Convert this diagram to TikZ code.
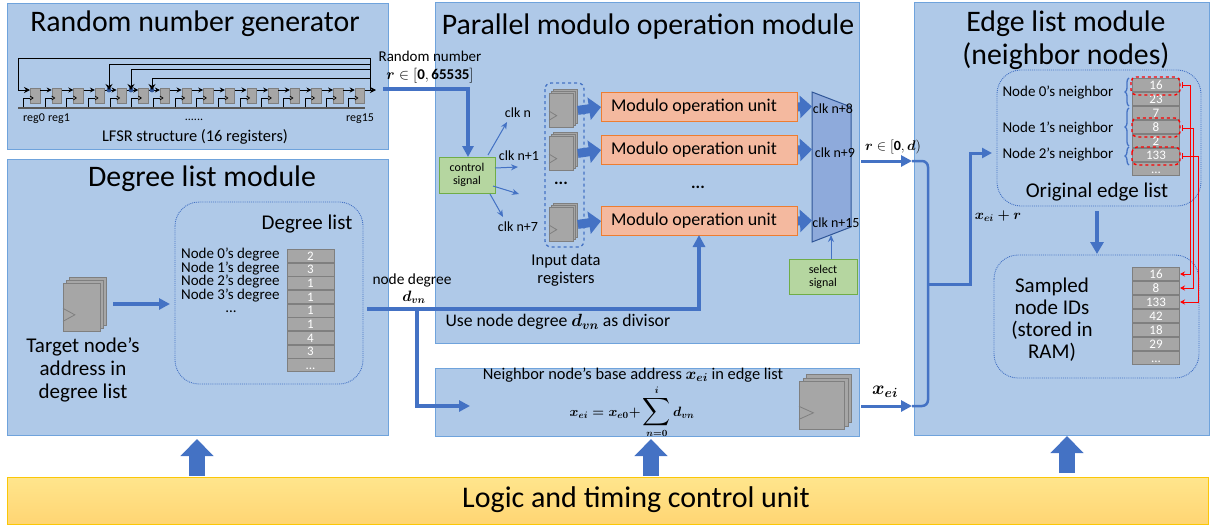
\RequirePackage{fix-cm}
\documentclass[tikz,border=0pt]{standalone}
\usepackage{amsmath}
\usepackage{graphicx}
\usepackage{fontspec}
\setmainfont{Carlito}
\usetikzlibrary{positioning,calc,arrows.meta,decorations.pathreplacing}
\definecolor{bleu}{HTML}{4472C4}
\definecolor{panneau}{HTML}{AFC9E8}
\definecolor{bord}{HTML}{6FA3DC}
\definecolor{cellgris}{HTML}{A6A6A6}
\definecolor{cellbord}{HTML}{7F7F7F}
\definecolor{saumon}{HTML}{F4B99F}
\definecolor{orange2}{HTML}{ED7D31}
\definecolor{vert2}{HTML}{B5D6A0}
\definecolor{vert3}{HTML}{70AD47}
\definecolor{mux}{HTML}{8EAADB}
\definecolor{muxbord}{HTML}{2F5597}
\newcommand{\fs}[1]{\fontsize{#1}{#1}\selectfont}
\newcommand{\pts}{...}
\tikzstyle{panneau}=[rectangle,draw=bord,fill=panneau,line width=1,anchor=north west]
\tikzstyle{bloc}=[rectangle,draw=cellbord,fill=cellgris,line width=0.8,anchor=north west,inner sep=0pt]
\tikzstyle{reg}=[rectangle,draw=cellbord,fill=cellgris,line width=0.8,anchor=north west,inner sep=0pt,minimum width=9.5,minimum height=15]
\tikzstyle{cell}=[rectangle,draw=cellbord,fill=cellgris,line width=1,text=white,inner sep=0pt,minimum width=47,text height=8.5,text depth=0,font=\fs{13}]
\tikzstyle{unite}=[rectangle,draw=orange2,fill=saumon,line width=1,anchor=north west,minimum width=196,minimum height=29,inner sep=0pt]
\tikzstyle{vert}=[rectangle,draw=vert3,fill=vert2,line width=1,align=center,inner sep=0pt,font=\fs{12}]
\tikzstyle{pointil}=[draw=bleu,densely dotted,rounded corners=24,line width=0.9]
\tikzstyle{fleche}=[draw=bleu,line width=4,-{Triangle[length=11,width=11]}]
\tikzstyle{fine}=[draw=bleu,line width=1,-{Stealth[length=7,width=6]}]
\tikzstyle{gros}=[draw=bleu,line width=9,-{Triangle[length=12,width=22]}]
\tikzstyle{geant}=[draw=bleu,line width=16,-{Triangle[length=17,width=32]}]
\tikzstyle{rouge}=[draw=red,line width=1,{Bar[width=6]}-{Stealth[length=5,width=5]}]
\tikzstyle{cadre}=[draw=red,line width=1.4,dashed,rounded corners=5]
\tikzstyle{clk}=[font=\fs{14}]
% pile de registres : nom, x, y, largeur, hauteur, decalage
\newcommand{\pile}[6]{
\foreach \k in {2,1} {
\node[bloc,minimum width=#4,minimum height=#5] at ({#2+\k*#6},{#3-\k*#6}) {};
}
\node[bloc,minimum width=#4,minimum height=#5] (#1) at (#2,#3) {};
\draw[cellbord,line width=0.8] ($(#1.west)+(0,0.02*#5)$)--++(0.32*#4,0.135*#5)--++(-0.32*#4,0.135*#5);
}
\begin{document}
\begin{tikzpicture}[x=1pt,y=-1pt]
\useasboundingbox (0,0) rectangle (1213,525);

% panneaux
\node[panneau,minimum width=381,minimum height=146] (P00) at (7,3) {};
\node[panneau,minimum width=381,minimum height=276] (P10) at (7,159) {};
\node[panneau,minimum width=424,minimum height=341] (P01) at (435,2) {};
\node[panneau,minimum width=424,minimum height=68] (P11) at (435,368) {};
\node[panneau,minimum width=295,minimum height=433] (P02) at (914,2) {};
\node[rectangle,draw=yellow!60!orange,line width=1,top color=orange!45!yellow!45!white,bottom color=orange!60!yellow!55!white,anchor=north west,minimum width=1201,minimum height=47] (U00) at (7,477) {};
\node[font=\fs{30}] (T20) at (636,499.5) {Logic and timing control unit};

\node[font=\fs{29.8}] (T00) at (195,24) {Random number generator};
\node[font=\fs{29.8}] (T10) at (202,179) {Degree list module};
\node[font=\fs{29.8}] (T01) at (648,27) {Parallel modulo operation module};
\node[font=\fs{29.8},align=center] (T02) at (1066,40) {Edge list module\\[3pt](neighbor nodes)};

% LFSR
\foreach \i in {0,...,15} {
\node[reg] (R\i) at ({30+21.65*\i},87.5) {};
\draw[line width=0.8] ({23.5+21.65*\i},108)|-({30+21.65*\i},98);
\draw[line width=0.7] ({30+21.65*\i},96)--++(3,2)--++(-3,2);
}
\foreach \i [remember=\i as \j (initially 0)] in {1,...,15} {
\draw[-{Stealth[length=5,width=5]},line width=0.8] (R\j.east|-0,90)--(R\i.west|-0,90);
}
\coordinate (C00) at (18,90);
\coordinate (C01) at (18,58);
\coordinate (C02) at (370,58);
\coordinate (C03) at (370,90);
\coordinate (C04) at (376,90);
\coordinate (D00) at (109,90);
\coordinate (D01) at (131,90);
\coordinate (D02) at (152,90);
\draw[line width=0.9,-{Stealth[length=6,width=6]}] (C03)--(C02)--(C01)--(C00)--(R0.west|-C00);
\draw[line width=0.9,-{Stealth[length=6,width=6]}] (R15.east|-C03)--(C04);
\foreach \c in {D00,D01,D02} \fill[muxbord] (\c) circle (2.4);
\draw[line width=0.9,-{Stealth[length=6,width=7]}] (C02|-0,64)-|(D00);
\draw[line width=0.9,-{Stealth[length=6,width=7]}] (C02|-0,69.5)-|(D01);
\draw[line width=0.9,-{Stealth[length=6,width=7]}] (C02|-0,78)-|(D02);
\draw[line width=1.2,black!65] (18,108)--(365,108);
\node[font=\fs{12}] (L00) at (34,119) {reg0};
\node[font=\fs{12}] (L01) at (59,119) {reg1};
\node[font=\fs{12}] (L02) at (194,120) {......};
\node[font=\fs{12}] (L03) at (360,119) {reg15};
\node[font=\fs{16.4}] (L04) at (195,137) {LFSR structure (16 registers)};

% degree list
\draw[pointil] (175,202) rectangle (363,384);
\node[font=\fs{21}] (D10) at (307,224) {Degree list};
\pile{S00}{63}{283}{37}{48}{3}
\node[font=\fs{21},align=center] (S01) at (83,370) {Target node's\\[2pt]address in\\[2pt]degree list};
\draw[fleche] (113,304)--(170,304);
\foreach \t [count=\i] in {0,1,2,3} {
\node[font=\fs{15},anchor=east] (N\i) at (283,{241.5+13.4*\i}) {Node \t's degree};
}
\node[font=\fs{15}] (N5) at (231,312) {...};
\foreach \v [count=\i] in {2,3,1,1,1,1,4,3,\pts} {
\node[cell,minimum height=13] (G\i) at (310.5,{242.2+13.68*\i}) {\v};
}

% sortie du generateur
\node[font=\fs{15},align=center] (Q00) at (430,67) {Random number\\[2.5pt]$\boldsymbol{r}\in[\mathbf{0},\mathbf{65535}]$};
\draw[fleche] (383,89)-|(468,157);

% commande
\node[vert,minimum width=56,minimum height=36] (V00) at (467,175) {control\\[1pt]signal};
\node[clk] (K00) at (518,113) {clk n};
\node[clk] (K10) at (519,156) {clk n+1};
\node[clk] (K20) at (518,227) {clk n+7};
\draw[fine] (488,155)--(507,122);
\draw[fine] (495,168)--(518,167);
\draw[fine] (493,186)--(519,194);
\draw[fine] (490,194)--(503,217);

% registres d'entree et unites
\draw[draw=bleu,line width=1.3,dashed,rounded corners=6] (545,83) rectangle (584,247);
\pile{I00}{549}{93}{24}{34}{2}
\pile{I10}{549}{136}{24}{34}{2}
\pile{I20}{549}{207}{24}{34}{2}
\node[font=\fs{17}] (I30) at (561,183) {\textbf{...}};
\node[font=\fs{16.5},align=center] (I40) at (566,270) {Input data\\[2pt]registers};
\node[unite] (M00) at (601,92) {};
\node[unite] (M10) at (601,135) {};
\node[unite] (M20) at (601,206) {};
\foreach \m in {M00,M10,M20} \node[font=\fs{18},anchor=west] at (\m.west) [xshift=6.5] {Modulo operation unit};
\node[font=\fs{17}] (M30) at (698,187) {\textbf{...}};

% multiplexeur
\draw[draw=muxbord,line width=1,fill=mux] (812,92)--(851,107)--(851,227)--(812,242)--cycle;
\coordinate (X00) at (812,106.5);
\coordinate (X10) at (812,149.5);
\coordinate (X20) at (812,220.5);
\draw[gros] (M00.east)--(X00);
\draw[gros] (M10.east)--(X10);
\draw[gros] (M20.east)--(X20);
\draw[gros] ($(I00.east)+(4,0)$)--(M00.west);
\draw[gros] ($(I10.east)+(4,0)$)--(M10.west);
\draw[gros] ($(I20.east)+(4,0)$)--(M20.west);
\node[clk] (K01) at (833,109) {clk n+8};
\node[clk] (K11) at (835,153) {clk n+9};
\node[clk] (K21) at (836,223) {clk n+15};
\node[vert,minimum width=68,minimum height=35] (V10) at (823,276.5) {select\\[1pt]signal};
\draw[fine] (831,259)--(831,235);

% degre du noeud
\coordinate (B00) at (367,309);
\coordinate (B01) at (417,309);
\node[font=\fs{15.4}] (E00) at (412,280) {node degree};
\node[font=\fs{15}] (E01) at (414,297) {$\boldsymbol{d_{vn}}$};
\node[font=\fs{17.7},anchor=west] (E02) at (442,322) {Use node degree $\boldsymbol{d_{vn}}$ as divisor};
\draw[fleche,line width=4,-{Triangle[length=12,width=12]}] (B00)-|(699,235);
\draw[fleche] (B01)|-(470,406);

% adresse de base
\node[font=\fs{16.4}] (A00) at (633,375) {Neighbor node's base address $\boldsymbol{x_{ei}}$ in edge list};
\node[font=\fs{13.5}] (A01) at (632,412) {$\boldsymbol{x_{ei}=x_{e0}+}\mathop{\scalebox{1.35}{$\displaystyle\boldsymbol{\sum}$}}\limits_{\boldsymbol{n=0}}^{\boldsymbol{i}}\boldsymbol{d_{vn}}$};
\pile{S10}{799}{381}{45}{48}{3.5}

% sorties vers la liste
\node[font=\fs{14}] (F00) at (893,147) {$\boldsymbol{r}\in[\mathbf{0},\boldsymbol{d})$};
\node[font=\fs{19}] (F01) at (885,392) {$\boldsymbol{x_{ei}}$};
\draw[fleche,line width=3] (861,161)--(912,161);
\draw[fleche,line width=3] (861,406)--(912,406);
\coordinate (J00) at (928,284);
\draw[draw=bleu,line width=2.5,rounded corners=6] (912,161)-|(928,406)--(912,406);
\draw[fleche,line width=3,-{Triangle[length=10,width=10]}] (J00)-|(970,153)--(992,153);
\node[font=\fs{14}] (F02) at (998,216) {$\boldsymbol{x_{ei}+r}$};

% liste d'aretes
\draw[pointil] (997,70) rectangle (1201,206);
\node[font=\fs{21}] (O00) at (1097,192) {Original edge list};
\foreach \v [count=\i] in {16,23,7,8,2,133,\pts} {
\node[cell,minimum height=13.3] (H\i) at (1156,{71+14*\i}) {\v};
}
\node[font=\fs{15},anchor=west] (H10) at (999,92) {Node 0's neighbor};
\node[font=\fs{15},anchor=west] (H11) at (999,128) {Node 1's neighbor};
\node[font=\fs{15},anchor=west] (H12) at (999,154) {Node 2's neighbor};
\draw[draw=bleu,line width=1.3,decorate,decoration={brace,amplitude=4}] (1129,106)--(1129,78);
\draw[draw=bleu,line width=1.3,decorate,decoration={brace,amplitude=4}] (1129,146)--(1129,108);
\draw[draw=bleu,line width=1.3,decorate,decoration={brace,amplitude=4}] (1129,165)--(1129,147);
\draw[cadre] (1131,77) rectangle (1180,95);
\draw[cadre] (1132,118) rectangle (1180,137);
\draw[cadre] (1132,147) rectangle (1180,165);
\draw[fleche,line width=4,-{Triangle[length=12,width=13]}] (O00|-0,211)--(O00|-0,254);

% identifiants
\draw[pointil] (994,255) rectangle (1199,378);
\node[font=\fs{21},align=center] (W00) at (1052,320) {Sampled\\[1pt]node IDs\\[1pt](stored in\\[1pt]RAM)};
\foreach \v [count=\i] in {16,8,133,42,18,29,\pts} {
\node[cell,minimum height=13.3] (Z\i) at (1156,{260+14*\i}) {\v};
}
\draw[rouge] (1182,85)-|(1190,274)--(Z1.east);
\draw[rouge] (1182,128)-|(1193,288)--(Z2.east);
\draw[rouge] (1182,156)-|(1198,302)--(Z3.east);

% unite de controle
\coordinate (Y00) at (197,476);
\coordinate (Y01) at (651,476);
\coordinate (Y02) at (1067,473);
\draw[geant] (Y00)--(197,439);
\draw[geant] (Y01)--(651,439);
\draw[geant] (Y02)--(1067,436);

\end{tikzpicture}
\end{document}
